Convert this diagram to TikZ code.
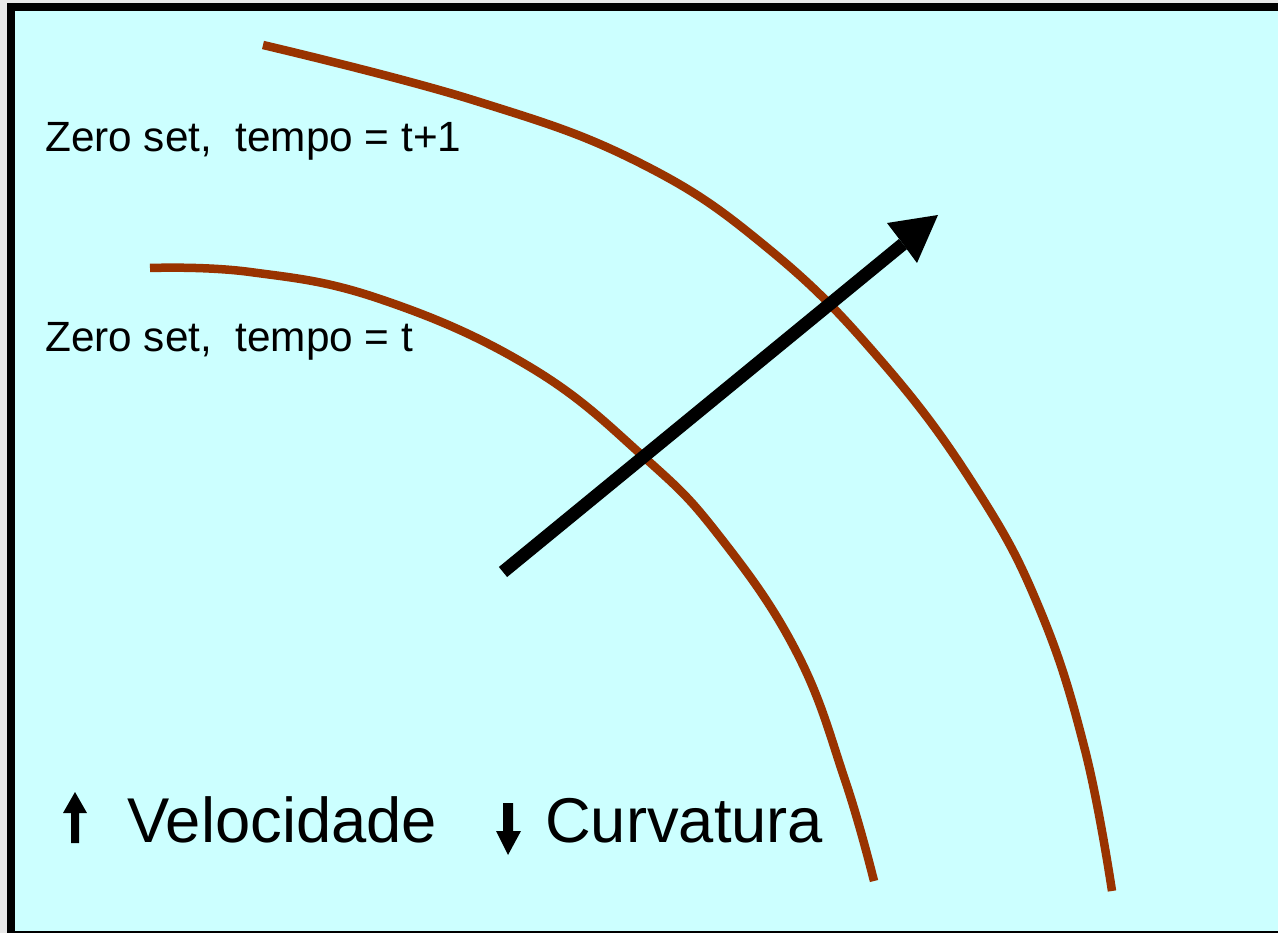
\documentclass[tikz,border=0pt]{standalone}
\usepackage{fontspec}
\setmainfont{Liberation Sans}
\begin{document}
\begin{tikzpicture}[x=1pt,y=-1pt,
  lbl/.style={anchor=base west,inner sep=0pt,font=\fontsize{42.3}{50}\selectfont},
  biglbl/.style={anchor=base west,inner sep=0pt,font=\fontsize{63.3}{70}\selectfont},
  zeroset/.style={draw=zscol,line width=8.5pt,line cap=butt},
  bigarrow/.style={draw=black,line width=13pt}]
\definecolor{bgcyan}{HTML}{CCFFFF}
\definecolor{zscol}{HTML}{993300}
\definecolor{outer}{HTML}{E8E8E8}
\useasboundingbox (0,0) rectangle (1278,933);
\clip (0,0) rectangle (1278,933);
\fill[outer] (0,0) rectangle (1278,933);
\draw[line width=8pt,fill=bgcyan] (11,7) rectangle (1292,935);
% zero set t+1
\draw[zeroset] plot[smooth,tension=0.7] coordinates {(263,45) (473,100) (640,163) (770,250) (883,363) (977,490) (1040,610) (1085,750) (1112,891)};
% zero set t
\draw[zeroset] plot[smooth,tension=0.7] coordinates {(150,268) (250,272) (380,299) (530,367) (645,458) (720,537) (797,653) (845,780) (874,881)};
% big arrow
\coordinate (a0) at (503,572);
\coordinate (a1) at (903,244);
\draw[bigarrow] (a0) -- (a1);
\fill (938,215) -- (887,223) -- (903,244) -- (917,263) -- cycle;
% labels
\node[lbl] (l1) at (45,152) {Zero set,\ \ tempo = t+1};
\node[lbl] (l2) at (45,352) {Zero set,\ \ tempo = t};
% small arrows
\fill (71,843) rectangle (79,812) (63,813) -- (75,792) -- (87,813) -- cycle;
\fill (503,803) rectangle (513,832) (496,831) -- (508,855) -- (521,831) -- cycle;
\node[biglbl] (v) at (127,842) {Velocidade};
\node[biglbl] (c) at (545,842) {Curvatura};
\end{tikzpicture}
\end{document}
